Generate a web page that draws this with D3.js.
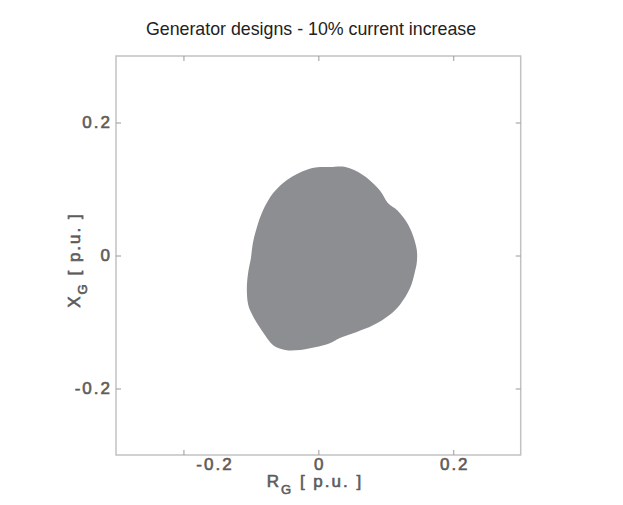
<!DOCTYPE html>
<html>
<head>
<meta charset="utf-8">
<script src="https://cdn.jsdelivr.net/npm/d3@7"></script>
<style>
  html, body { margin: 0; padding: 0; background: #fff; }
  svg { display: block; font-family: "Liberation Sans", Arial, sans-serif; }
</style>
</head>
<body>
<svg id="chart" width="623" height="505"></svg>
<script>
// ---- data ----
const title = "Generator designs - 10% current increase";
const xDomain = [-0.3, 0.3];
const yDomain = [-0.3, 0.3];
const xTicks = [-0.2, 0, 0.2];
const yTicks = [-0.2, 0, 0.2];
const xTickLabels = ["-0.2", "0", "0.2"];
const yTickLabels = ["-0.2", "0", "0.2"];
// boundary of the feasible design region (R_G, X_G) in p.u.
const regionR = [0.017, 0.040, 0.066, 0.091, 0.103, 0.117, 0.131, 0.140, 0.146, 0.146,
                 0.143, 0.136, 0.121, 0.106, 0.081, 0.057, 0.032, 0.017, -0.005, -0.027,
                 -0.049, -0.067, -0.079, -0.089, -0.098, -0.104, -0.106, -0.104, -0.100, -0.097,
                 -0.091, -0.082, -0.067, -0.046, -0.017, 0.003];
const regionX = [0.133, 0.133, 0.121, 0.098, 0.079, 0.068, 0.050, 0.031, 0.008, -0.010,
                 -0.025, -0.049, -0.074, -0.089, -0.105, -0.115, -0.124, -0.132, -0.138, -0.142,
                 -0.142, -0.135, -0.120, -0.105, -0.089, -0.074, -0.049, -0.025, -0.004, 0.019,
                 0.043, 0.068, 0.094, 0.114, 0.129, 0.133];

// ---- layout ----
const svg = d3.select("#chart");
const mLeft = 116, mRight = 520.7, mTop = 56, mBottom = 455;
const x = d3.scaleLinear().domain(xDomain).range([mLeft, mRight]);
const y = d3.scaleLinear().domain(yDomain).range([mBottom, mTop]);
const labelColor = "#5c5c5c";

svg.append("rect").attr("width", 623).attr("height", 505).attr("fill", "#fff");

// title
svg.append("text")
  .attr("x", 311).attr("y", 35)
  .attr("text-anchor", "middle")
  .attr("font-size", 17.8)
  .attr("fill", "#222")
  .text(title);

// region
const pts = regionR.map((r, i) => [r, regionX[i]]);
svg.append("path")
  .datum(pts)
  .attr("d", d3.line().x(d => x(d[0])).y(d => y(d[1])).curve(d3.curveCatmullRomClosed.alpha(0.5)))
  .attr("fill", "#8d8e92")
  .attr("stroke", "none");

// frame
const frameColor = "#c2c2c2";
svg.append("rect")
  .attr("x", mLeft).attr("y", mTop)
  .attr("width", mRight - mLeft).attr("height", mBottom - mTop)
  .attr("fill", "none").attr("stroke", frameColor).attr("stroke-width", 1.5);

// axes (inward ticks on all sides)
const tickLen = 5;
const axB = d3.axisBottom(x).tickValues(xTicks).tickSize(-tickLen).tickFormat((d, i) => xTickLabels[i]).tickPadding(3);
const axT = d3.axisTop(x).tickValues(xTicks).tickSize(-tickLen).tickFormat("");
const axL = d3.axisLeft(y).tickValues(yTicks).tickSize(-tickLen).tickFormat((d, i) => yTickLabels[i]).tickPadding(4);
const axR = d3.axisRight(y).tickValues(yTicks).tickSize(-tickLen).tickFormat("");

function style(g) {
  g.select(".domain").remove();
  g.selectAll(".tick line").attr("stroke", "#9a9a9a").attr("stroke-width", 1);
  g.selectAll(".tick text").attr("fill", labelColor).attr("font-size", 17)
    .attr("stroke", labelColor).attr("stroke-width", 0.6)
    .attr("letter-spacing", 2)
    .attr("font-family", "'Liberation Sans', Arial, sans-serif");
}
const gB = svg.append("g").attr("transform", `translate(0,${mBottom})`).call(axB).call(style);
// the -0.2 label sits right of its tick in the reference
gB.selectAll(".tick text").attr("dx", (d) => d === -0.2 ? 31 : 1);
svg.append("g").attr("transform", `translate(0,${mTop})`).call(axT).call(style);
svg.append("g").attr("transform", `translate(${mLeft},0)`).call(axL).call(style);
svg.append("g").attr("transform", `translate(${mRight},0)`).call(axR).call(style);

// axis labels
const xl = svg.append("text")
  .attr("x", 315).attr("y", 487)
  .attr("text-anchor", "middle")
  .attr("font-size", 17).attr("fill", labelColor)
  .attr("stroke", labelColor).attr("stroke-width", 0.6)
  .attr("letter-spacing", 2)
  .attr("style", "white-space: pre");
xl.append("tspan").text("R");
xl.append("tspan").attr("font-size", 13).attr("dy", 7).text("G");
xl.append("tspan").attr("dy", -7).text(" [ p.u. ]");

const yl = svg.append("text")
  .attr("transform", "translate(80,260) rotate(-90)")
  .attr("text-anchor", "middle")
  .attr("font-size", 17).attr("fill", labelColor)
  .attr("stroke", labelColor).attr("stroke-width", 0.6)
  .attr("letter-spacing", 2)
  .attr("style", "white-space: pre");
yl.append("tspan").text("X");
yl.append("tspan").attr("font-size", 13).attr("dy", 7).text("G");
yl.append("tspan").attr("dy", -7).text(" [ p.u. ]");
</script>
</body>
</html>
